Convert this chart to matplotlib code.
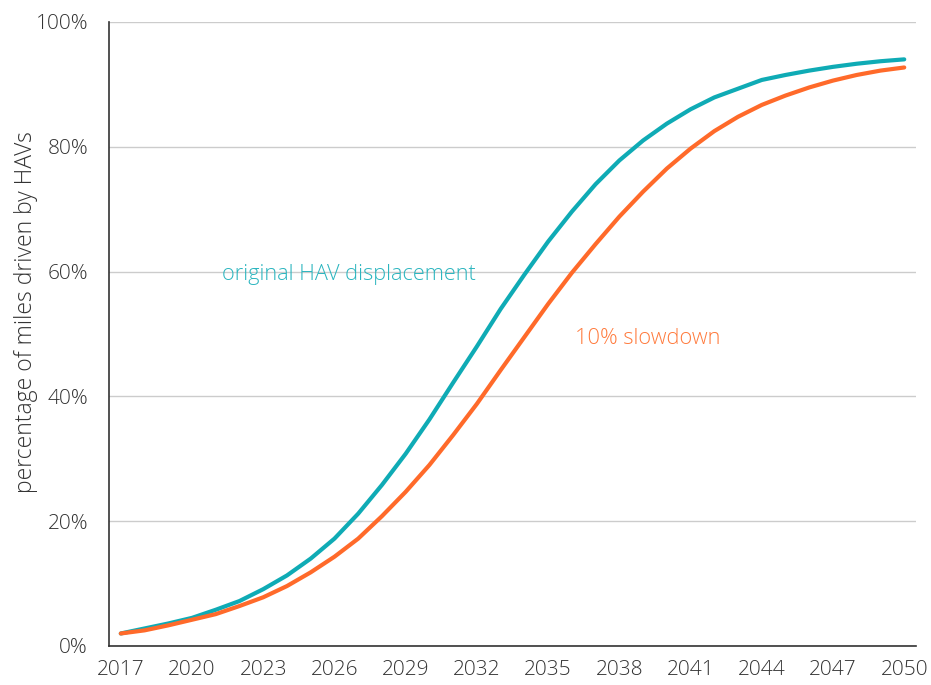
import numpy as np
from matplotlib import pyplot as plt

plt.rcParams['font.family'] = ['Open Sans', 'DejaVu Sans']

years = np.arange(2017, 2051)
original = [2.0, 2.8, 3.6, 4.5, 5.8, 7.2, 9.1, 11.3, 14.0, 17.2,
            21.2, 25.8, 30.8, 36.3, 42.2, 48.0, 54.0, 59.5, 64.8, 69.6,
            74.0, 77.8, 81.0, 83.7, 86.0, 87.9, 89.3, 90.7, 91.5, 92.2,
            92.8, 93.3, 93.7, 94.0]
slowdown = [2.0, 2.5, 3.3, 4.2, 5.1, 6.4, 7.8, 9.6, 11.8, 14.3,
            17.2, 20.8, 24.7, 29.0, 33.8, 38.8, 44.2, 49.5, 54.8, 59.8,
            64.4, 68.8, 72.8, 76.5, 79.7, 82.5, 84.8, 86.7, 88.2, 89.5,
            90.6, 91.5, 92.2, 92.7]
xticks = list(range(2017, 2051, 3))
yticks = [0, 20, 40, 60, 80, 100]

teal = '#0fabb5'
orange = '#ff6a2a'
grey = '#333333'

fig = plt.figure(figsize=(9.31, 6.85), dpi=100)
ax = fig.add_axes([0.117, 0.057, 0.867, 0.911])

ax.plot(years, original, color=teal, linewidth=3, solid_capstyle='round', zorder=3)
ax.plot(years, slowdown, color=orange, linewidth=3, solid_capstyle='round', zorder=3)

ax.text(2021.25, 59.6, 'original HAV displacement', color='#2bb5bf',
        fontsize=15.7, fontweight='light', va='center')
ax.text(2036.15, 49.2, '10% slowdown', color='#ff7a3c',
        fontsize=15.7, fontweight='light', va='center')

ax.set_xlim(2016.5, 2050.5)
ax.set_ylim(0, 100)
ax.set_xticks(xticks)
ax.set_yticks(yticks)
ax.set_yticklabels([f'{v}%' for v in yticks])
ax.tick_params(length=0, labelsize=15, labelcolor=grey)
ax.tick_params(axis='y', pad=15)
ax.tick_params(axis='x', pad=10)
for lbl in ax.get_xticklabels() + ax.get_yticklabels():
    lbl.set_fontweight('light')
ax.grid(axis='y', color='#cccccc', linewidth=1)
ax.set_axisbelow(True)
for s in ['top', 'right']:
    ax.spines[s].set_visible(False)
for s in ['left', 'bottom']:
    ax.spines[s].set_color('#333333')
    ax.spines[s].set_linewidth(1.2)
ax.set_ylabel('percentage of miles driven by HAVs', fontsize=16.5,
              fontweight='light', color=grey)
ax.yaxis.set_label_coords(-0.088, 0.535)

plt.savefig('out.png', dpi=100)
